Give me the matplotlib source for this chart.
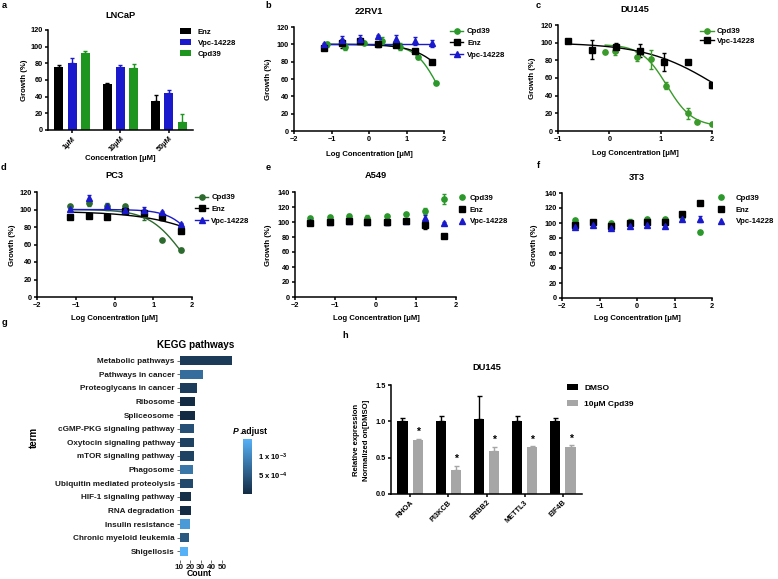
import numpy as np
import matplotlib
matplotlib.use('Agg')
import matplotlib.pyplot as plt
from matplotlib.colors import LinearSegmentedColormap, Normalize
from matplotlib.cm import ScalarMappable

plt.rcParams['font.family'] = ['Liberation Sans', 'DejaVu Sans']
plt.rcParams['font.weight'] = 'bold'
plt.rcParams['mathtext.default'] = 'regular'

# ---------------- data ----------------
# a: LNCaP bars
a_groups = ['1μM', '10μM', '50μM']
a_enz = [76, 55, 35]
a_enz_err = [2, 2, 7]
a_vpc = [81, 76, 44]
a_vpc_err = [6, 2, 4]
a_cpd = [92, 74, 10]
a_cpd_err = [3, 5, 9]

# b: 22RV1
b_x_cpd = [-1.11, -0.63, -0.14, 0.35, 0.82, 1.31, 1.79]
b_y_cpd = [100, 97, 102, 104, 97, 85, 55]
b_e_cpd = [3, 3, 2, 4, 4, 2, 1]
b_x_enz = [-1.2, -0.72, -0.23, 0.25, 0.73, 1.22, 1.69]
b_y_enz = [96, 101, 104, 100, 99, 92, 80]
b_e_enz = [3, 5, 3, 3, 2, 2, 1]
b_y_vpc = [100, 105, 106, 110, 106, 104, 101]
b_e_vpc = [2, 5, 5, 1, 5, 5, 4]
b_fit_cpd = (100, 0, 1.86, 1.4)    # top, bottom, logIC50, hill
b_fit_enz = (100, 0, 2.33, 0.95)
b_fit_vpc = (100, 100, 0.0, 1.0)

# c: DU145
c_x_cpd = [-0.08, 0.12, 0.53, 0.82, 1.11, 1.53, 1.7, 2.0]
c_y_cpd = [90, 91, 84, 81, 51, 20, 10, 8]
c_e_cpd = [2, 5, 5, 11, 4, 6, 1, 1]
c_x_vpc = [-0.81, -0.33, 0.13, 0.6, 1.07, 1.53, 2.0]
c_y_vpc = [102, 92, 95, 91, 78, 78, 52]
c_e_vpc = [1, 11, 5, 7, 10, 1, 3]
c_fit_cpd = (98, 5, 1.12, 1.75)
c_fit_vpc = (100, 0, 2.14, 0.614)

# d: PC3
d_x = [-1.15, -0.67, -0.2, 0.28, 0.76, 1.23, 1.72]
d_y_cpd = [104.5, 107.5, 104, 104.5, 94, 65, 53.5]
d_e_cpd = [1, 3, 4, 1, 6, 1, 2]
d_y_enz = [91, 93, 91, 98, 96, 91.5, 76]
d_e_enz = [2, 2, 1, 1, 3, 3, 1]
d_y_vpc = [101, 113, 104, 100, 100, 97, 84]
d_e_vpc = [1, 4, 2, 1, 3, 1, 1]
d_fit_cpd = (100, 0, 1.755, 1.0)
d_fit_enz = (98, 0, 3.2, 0.456)
d_fit_vpc = (100, 0, 2.294, 1.2)

# e: A549
e_x = [-1.63, -1.14, -0.66, -0.2, 0.28, 0.755, 1.24, 1.71]
e_y_cpd = [106, 107, 107.5, 106, 107.5, 111, 115, 131]
e_e_cpd = [1, 1, 3, 3, 1, 1, 4, 7]
e_y_enz = [99, 100.5, 101.5, 99.5, 99.5, 101.5, 96, 81]
e_e_enz = [3, 2, 1, 1, 3, 1, 5, 2]
e_y_vpc = [100, 100, 101, 100, 100, 102, 106, 99]
e_e_vpc = [1, 1, 1, 1, 1, 1, 3, 1]

# f: 3T3
f_x = [-1.66, -1.17, -0.69, -0.2, 0.26, 0.74, 1.2, 1.69]
f_y_cpd = [104, 102, 99.5, 102, 106, 106, 108.5, 88]
f_e_cpd = [2, 2, 1, 4, 1, 1, 3, 2]
f_y_enz = [98, 101, 96.5, 100, 101, 102, 112, 127]
f_e_enz = [2, 1, 2, 1, 1, 2, 1, 1]
f_y_vpc = [95, 98, 93, 96.5, 98, 96, 105, 106]
f_e_vpc = [1, 1, 1, 1, 1, 1, 1, 4]

# g: KEGG pathways
g_terms = ['Metabolic pathways', 'Pathways in cancer', 'Proteoglycans in cancer',
           'Ribosome', 'Spliceosome', 'cGMP-PKG signaling pathway',
           'Oxytocin signaling pathway', 'mTOR signaling pathway', 'Phagosome',
           'Ubiquitin mediated proteolysis', 'HIF-1 signaling pathway',
           'RNA degradation', 'Insulin resistance', 'Chronic myeloid leukemia',
           'Shigellosis']
g_count = [59, 32, 26, 25, 25, 24, 24, 24, 23, 23, 21, 21, 20, 19, 18]
g_padj = [1.8e-4, 7.3e-4, 1.9e-4, 1.0e-5, 1.5e-5, 4.0e-4, 2.6e-4, 2.7e-4,
          8.3e-4, 3.3e-4, 7.0e-5, 3.0e-5, 1.2e-3, 5.0e-4, 1.45e-3]

# h: DU145 qPCR
h_genes = ['RHOA', 'PI3KCB', 'ERBB2', 'METTL3', 'EIF4B']
h_dmso = [1.0, 1.0, 1.03, 1.0, 1.0]
h_dmso_err = [0.05, 0.08, 0.32, 0.08, 0.04]
h_cpd = [0.74, 0.33, 0.59, 0.64, 0.65]
h_cpd_err = [0.02, 0.06, 0.06, 0.02, 0.02]

# ---------------- figure ----------------
W, H = 778, 579
fig = plt.figure(figsize=(W / 100, H / 100), dpi=100)

GREEN = '#1f8f1f'
DGREEN = '#2d6a2d'
BLUE = '#1a1acc'
BLACK = '#000000'
TICK = 5.3
LAB = 5.6
TIT = 6.7
MS = 3.8


def add_ax(l, t, r, b):
    return fig.add_axes([l / W, 1 - b / H, (r - l) / W, (b - t) / H])


def T(x, y, s, size, ha='center', va='center', rot=0, **kw):
    kw.setdefault('fontweight', 'bold')
    return fig.text(x / W, 1 - y / H, s, fontsize=size, ha=ha, va=va,
                    rotation=rot, **kw)


def prism(ax):
    for s in ['top', 'right']:
        ax.spines[s].set_visible(False)
    for s in ['left', 'bottom']:
        ax.spines[s].set_linewidth(1.1)
    ax.tick_params(width=1.1, length=2.5, labelsize=TICK, pad=1.2)


def hill(x, p):
    top, bot, c, h = p
    return bot + (top - bot) / (1 + 10 ** ((x - c) * h))


def legend_at(ax, x, y, size=LAB, **kw):
    kw.setdefault('labelspacing', 0.45)
    return ax.legend(loc='upper left', bbox_to_anchor=(x / W, 1 - y / H),
                     bbox_transform=fig.transFigure, frameon=False,
                     borderaxespad=0, borderpad=0,
                     prop={'weight': 'bold', 'size': size}, **kw)


def series(ax, x, y, e, color, marker, label, fit=None, line=True):
    ax.errorbar(x, y, yerr=e, fmt='none', ecolor=color, elinewidth=1.0,
                capsize=1.7, capthick=1.0, zorder=3)
    if fit is not None:
        xx = np.linspace(min(x), max(x), 200)
        ax.plot(xx, hill(xx, fit), color=color, lw=1.0, zorder=2)
    ax.plot(x, y, linestyle='none', marker=marker, color=color, ms=MS, zorder=4)
    if label:
        ax.plot([], [], color=color, marker=marker, ms=MS,
                lw=1.0 if line else 0, linestyle='-' if line else 'none',
                label=label)


# ---- a: LNCaP ----
ax = add_ax(48, 30, 193, 130)
prism(ax)
xa = np.arange(len(a_groups))
off, bw = 0.275, 0.19
for dx, vals, err, col, lab in [(-off, a_enz, a_enz_err, BLACK, 'Enz'),
                                (0, a_vpc, a_vpc_err, BLUE, 'Vpc-14228'),
                                (off, a_cpd, a_cpd_err, '#1e951e', 'Cpd39')]:
    ax.bar(xa + dx, vals, width=bw, color=col, label=lab, zorder=2)
    ax.errorbar(xa + dx, vals, yerr=[np.zeros(len(err)), err], fmt='none',
                ecolor=col, elinewidth=1.0, capsize=1.6, capthick=1.0, zorder=3)
ax.set_xlim(-0.5, 2.5)
ax.set_ylim(0, 120)
ax.set_yticks(range(0, 121, 20))
ax.set_xticks(xa)
ax.set_xticklabels(a_groups, rotation=45, ha='right', rotation_mode='anchor')
legend_at(ax, 180, 28, handlelength=1.45, handleheight=0.75, handletextpad=0.8,
          labelspacing=0.45)
T(120, 15, 'LNCaP', TIT)
T(24, 80, 'Growth (%)', LAB, rot=90)
T(120, 158, 'Concentration [μM]', LAB)
T(4, 6, 'a', TIT)

# ---- b: 22RV1 ----
ax = add_ax(294, 27, 444, 131)
prism(ax)
series(ax, b_x_cpd, b_y_cpd, b_e_cpd, '#2a982a', 'o', 'Cpd39', b_fit_cpd)
series(ax, b_x_enz, b_y_enz, b_e_enz, BLACK, 's', 'Enz', b_fit_enz)
series(ax, b_x_enz, b_y_vpc, b_e_vpc, BLUE, '^', 'Vpc-14228', b_fit_vpc)
ax.set_xlim(-2, 2)
ax.set_ylim(0, 120)
ax.set_yticks(range(0, 121, 20))
ax.set_xticks(range(-2, 3))
legend_at(ax, 450, 28, handlelength=1.7, handletextpad=0.5, labelspacing=0.55)
T(369, 11, '22RV1', TIT)
T(269, 79, 'Growth (%)', LAB, rot=90)
T(369, 154, 'Log Concentration [μM]', LAB)
T(268, 6, 'b', TIT)

# ---- c: DU145 ----
ax = add_ax(558, 25, 712, 131)
prism(ax)
series(ax, c_x_cpd, c_y_cpd, c_e_cpd, '#3a9a2a', 'o', 'Cpd39', c_fit_cpd)
series(ax, c_x_vpc, c_y_vpc, c_e_vpc, BLACK, 's', 'Vpc-14228', c_fit_vpc)
ax.set_xlim(-1, 2)
ax.set_ylim(0, 120)
ax.set_yticks(range(0, 121, 20))
ax.set_xticks(range(-1, 3))
legend_at(ax, 700, 28, handlelength=1.8, handletextpad=0.4, labelspacing=0.3)
T(635, 10, 'DU145', TIT)
T(533, 78, 'Growth (%)', LAB, rot=90)
T(635, 153, 'Log Concentration [μM]', LAB)
T(538, 6, 'c', TIT)

# ---- d: PC3 ----
ax = add_ax(37, 192, 192, 297)
prism(ax)
series(ax, d_x, d_y_cpd, d_e_cpd, DGREEN, 'o', 'Cpd39', d_fit_cpd)
series(ax, d_x, d_y_enz, d_e_enz, BLACK, 's', 'Enz', d_fit_enz)
series(ax, d_x, d_y_vpc, d_e_vpc, BLUE, '^', 'Vpc-14228', d_fit_vpc)
ax.set_xlim(-2, 2)
ax.set_ylim(0, 120)
ax.set_yticks(range(0, 121, 20))
ax.set_xticks(range(-2, 3))
legend_at(ax, 195, 194, handlelength=1.7, handletextpad=0.4, labelspacing=0.55)
T(114, 175, 'PC3', TIT)
T(13, 245, 'Growth (%)', LAB, rot=90)
T(114, 318, 'Log Concentration [μM]', LAB)
T(4, 167, 'd', TIT)

# ---- e: A549 ----
ax = add_ax(295, 192, 456, 297)
prism(ax)
series(ax, e_x, e_y_cpd, e_e_cpd, '#2a982a', 'o', 'Cpd39', line=False)
series(ax, e_x, e_y_vpc, e_e_vpc, BLUE, '^', None, line=False)
series(ax, e_x, e_y_enz, e_e_enz, BLACK, 's', 'Enz', line=False)
ax.plot([], [], color=BLUE, marker='^', ms=MS, linestyle='none', label='Vpc-14228')
ax.set_xlim(-2, 2)
ax.set_ylim(0, 140)
ax.set_yticks(range(0, 141, 20))
ax.set_xticks(range(-2, 3))
legend_at(ax, 458, 194.5, handlelength=1.0, handletextpad=0.5, labelspacing=0.55)
T(376, 175, 'A549', TIT)
T(269, 245, 'Growth (%)', LAB, rot=90)
T(376, 318, 'Log Concentration [μM]', LAB)
T(268, 168, 'e', TIT)

# ---- f: 3T3 ----
ax = add_ax(562, 193, 712, 298)
prism(ax)
series(ax, f_x, f_y_cpd, f_e_cpd, '#2a982a', 'o', 'Cpd39', line=False)
series(ax, f_x, f_y_enz, f_e_enz, BLACK, 's', 'Enz', line=False)
series(ax, f_x, f_y_vpc, f_e_vpc, BLUE, '^', 'Vpc-14228', line=False)
ax.set_xlim(-2, 2)
ax.set_ylim(0, 140)
ax.set_yticks(range(0, 141, 20))
ax.set_xticks(range(-2, 3))
legend_at(ax, 717, 194.5, handlelength=1.0, handletextpad=1.4, labelspacing=0.55)
T(637, 177, '3T3', TIT)
T(535, 245, 'Growth (%)', LAB, rot=90)
T(637, 318, 'Log Concentration [μM]', LAB)
T(538, 165, 'f', TIT)

# ---- g: KEGG ----
n = len(g_terms)
ax = add_ax(179.5, 352.5, 234.75, 559.5)
cmap = LinearSegmentedColormap.from_list('gg', ['#132B43', '#56B1F7'])
norm = Normalize(vmin=min(g_padj), vmax=max(g_padj))
yy = np.arange(n)
ax.barh(yy, g_count, height=0.68, color=cmap(norm(np.array(g_padj))), zorder=2)
ax.set_ylim(n - 0.4, -0.6)
ax.set_xlim(10, 62)
ax.set_xticks([10, 20, 30, 40, 50])
ax.set_yticks(yy)
ax.set_yticklabels(g_terms)
for s in ax.spines.values():
    s.set_visible(False)
ax.tick_params(axis='y', length=2, width=0.6, color='#555555', labelsize=5.9,
               pad=1.5, labelcolor='#1a1a1a')
ax.tick_params(axis='x', length=2, width=0.6, color='#555555', labelsize=5.9,
               pad=1.0, labelcolor='#1a1a1a')
T(196, 345, 'KEGG pathways', 7.2)
T(34, 437, 'term', 7, rot=90)
T(199, 574, 'Count', 6.2)
T(5, 322, 'g', TIT)
cax = add_ax(243, 439, 252, 494)
cb = fig.colorbar(ScalarMappable(norm=norm, cmap=cmap), cax=cax)
cb.outline.set_visible(False)
cb.set_ticks([5e-4, 1e-3])
cb.set_ticklabels(['5 x 10$^{-4}$', '1 x 10$^{-3}$'])
cax.tick_params(length=2.5, width=0.6, color='white', labelsize=5.5, pad=1.5)
for lab in cax.get_yticklabels():
    lab.set_fontweight('bold')
T(239, 431, 'P', 6.2, ha='right', style='italic')
T(239, 431, '.adjust', 6.2, ha='left')

# ---- h: DU145 qPCR ----
ax = add_ax(391, 385, 582, 494)
prism(ax)
xh = np.arange(len(h_genes))
ho, hw = 0.2, 0.27
ax.bar(xh - ho, h_dmso, width=hw, color=BLACK, label='DMSO', zorder=2)
ax.errorbar(xh - ho, h_dmso, yerr=[np.zeros(len(h_dmso_err)), h_dmso_err],
            fmt='none', ecolor=BLACK, elinewidth=1.0, capsize=1.8, capthick=1.0)
ax.bar(xh + ho, h_cpd, width=hw, color='#a6a6a6', label='10μM Cpd39', zorder=2)
ax.errorbar(xh + ho, h_cpd, yerr=[np.zeros(len(h_cpd_err)), h_cpd_err],
            fmt='none', ecolor='#a6a6a6', elinewidth=1.0, capsize=1.8, capthick=1.0)
for xi, v, e in zip(xh + ho, h_cpd, h_cpd_err):
    ax.text(xi, v + e + 0.02, '*', ha='center', va='bottom', fontsize=7.5,
            fontweight='bold')
ax.set_xlim(-0.5, len(h_genes) - 0.5)
ax.set_ylim(0, 1.5)
ax.set_yticks([0, 0.5, 1.0, 1.5])
ax.set_yticklabels(['0.0', '0.5', '1.0', '1.5'])
ax.set_xticks(xh)
ax.set_xticklabels(h_genes, rotation=45, ha='right', rotation_mode='anchor')
ax.legend(loc='upper left', bbox_to_anchor=(567 / W, 1 - 384 / H),
          bbox_transform=fig.transFigure, frameon=False, borderaxespad=0,
          borderpad=0, prop={'weight': 'bold', 'size': 6}, handlelength=1.3,
          handleheight=0.8, handletextpad=0.8, labelspacing=0.9)
T(487, 367, 'DU145', TIT)
T(357, 440, 'Relative expression', LAB, rot=90)
T(367, 440, 'Normalized on[DMSO]', LAB, rot=90)
T(345, 335, 'h', TIT)

fig.savefig('out.png', dpi=100)
